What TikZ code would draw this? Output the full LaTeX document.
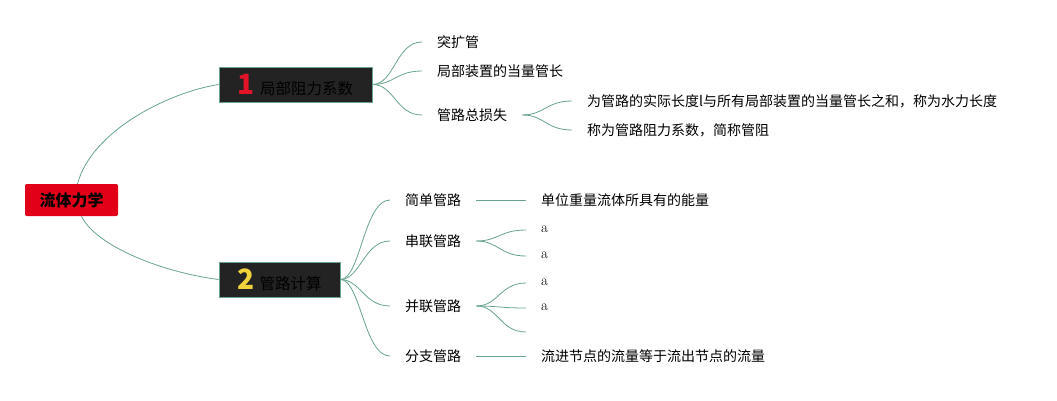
\documentclass[tikz,border=0pt]{standalone}
\usepackage{fontspec}
\newfontfamily\cjk{Noto Sans CJK SC}
\definecolor{edgec}{RGB}{104,164,140}
\definecolor{darkbox}{RGB}{34,35,34}
\definecolor{rootred}{RGB}{226,0,24}
\definecolor{numred}{RGB}{228,20,40}
\definecolor{numyellow}{RGB}{240,210,60}
\begin{document}
\begin{tikzpicture}[x=1pt,y=-1pt,
  edge/.style={draw=edgec, line width=0.8pt},
  leaf/.style={anchor=west, inner xsep=15pt, inner ysep=2pt, font=\cjk\fontsize{14}{16}\selectfont},
  latin/.style={anchor=west, inner xsep=15pt, inner ysep=2pt, font=\fontsize{15}{17}\selectfont},
  rootbox/.style={fill=rootred, rounded corners=2pt, minimum width=93pt, minimum height=32pt, inner sep=0pt, font=\cjk\bfseries\fontsize{16}{18}\selectfont},
  topic/.style={draw=edgec, line width=0.8pt, fill=darkbox, minimum height=35pt, inner sep=0pt, font=\cjk\fontsize{15.5}{17}\selectfont}
]
\useasboundingbox (0,0) rectangle (1057,400);

% root and topics
\node[rootbox] (root) at (71.5,200) {流体力学};
\node[topic, minimum width=153pt] (t1) at (295.5,84.5) {{\cjk\bfseries\fontsize{28}{28}\selectfont\color{numred}1}\hspace{5pt}局部阻力系数};
\node[topic, minimum width=121pt] (t2) at (279.5,279.5) {{\cjk\bfseries\fontsize{28}{28}\selectfont\color{numyellow}2}\hspace{5pt}管路计算};

\draw[edge] ([xshift=6pt]root.north) .. controls (92,130) and (170,92) .. (t1.west);
\draw[edge] ([xshift=10pt]root.south) .. controls (95,245) and (160,272) .. (t2.west);

% branch 1
\node[leaf] (a1) at (422,42) {突扩管};
\node[leaf] (a2) at (422,71) {局部装置的当量管长};
\node[leaf] (a3) at (422,115) {管路总损失};
\node[leaf] (b1) at (572,101) {为管路的实际长度l与所有局部装置的当量管长之和，称为水力长度};
\node[leaf] (b2) at (572,130) {称为管路阻力系数，简称管阻};

\foreach \n in {a1,a2,a3}
  \draw[edge] (t1.east) .. controls +(22,0) and +(-26,0) .. (\n.west);
\foreach \n in {b1,b2}
  \draw[edge] (a3.east) .. controls +(22,0) and +(-26,0) .. (\n.west);

% branch 2
\node[leaf] (s1) at (390,200) {简单管路};
\node[leaf] (s2) at (390,241) {串联管路};
\node[leaf] (s3) at (390,306) {并联管路};
\node[leaf] (s4) at (390,356) {分支管路};
\foreach \n in {s1,s2,s3,s4}
  \draw[edge] (t2.east) .. controls +(20,0) and +(-26,0) .. (\n.west);

\node[leaf] (c1) at (526,200) {单位重量流体所具有的能量};
\draw[edge] (s1.east) -- (c1.west);

\node[latin] (d1) at (526,229) {a};
\node[latin] (d2) at (526,255) {a};
\foreach \n in {d1,d2}
  \draw[edge] (s2.east) .. controls +(22,0) and +(-26,0) .. ([yshift=-1pt]\n.west);

\node[latin] (e1) at (526,282) {a};
\node[latin] (e2) at (526,307) {a};
\coordinate (e3) at (526,332);
\foreach \n in {e1,e2}
  \draw[edge] (s3.east) .. controls +(22,0) and +(-26,0) .. ([yshift=-1pt]\n.west);
\draw[edge] (s3.east) .. controls +(22,0) and +(-26,0) .. (e3);

\node[leaf] (f1) at (526,356) {流进节点的流量等于流出节点的流量};
\draw[edge] (s4.east) -- (f1.west);
\end{tikzpicture}
\end{document}
